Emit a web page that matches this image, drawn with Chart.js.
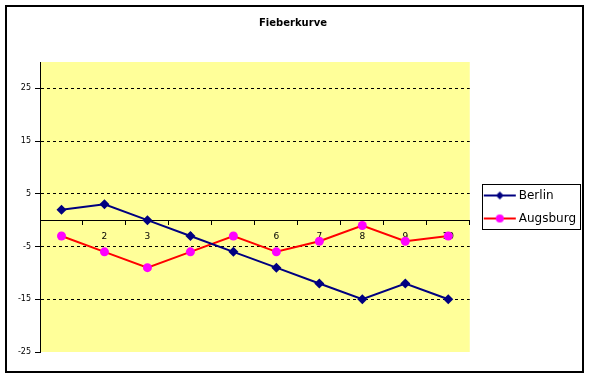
<!DOCTYPE html>
<html>
<head>
<meta charset="utf-8">
<script src="https://cdn.jsdelivr.net/npm/chart.js@4.4.1/dist/chart.umd.min.js"></script>
<style>
  html, body { margin: 0; padding: 0; background: #fff; }
  #chart { display: block; }
</style>
</head>
<body>
<canvas id="chart" width="589" height="378"></canvas>
<script>
// values
const categories = ['1', '2', '3', '4', '5', '6', '7', '8', '9', '10'];
const berlin   = [2, 3, 0, -3, -6, -9, -12, -15, -12, -15];
const augsburg = [-3, -6, -9, -6, -3, -6, -4, -1, -4, -3];
const yTicks   = [-25, -15, -5, 5, 15, 25];
const yMin = -25, yMax = 30;

const NAVY = '#000080', RED = '#FF0000', MAGENTA = '#FF00FF', PLOT_BG = '#FFFF99';
const FONT = 'DejaVu Sans';

// legend sample: short line with the series marker in the middle
function legendSample(lineColor, markColor, style) {
  const c = document.createElement('canvas');
  c.width = 40; c.height = 12;
  const g = c.getContext('2d');
  g.strokeStyle = lineColor; g.lineWidth = 2;
  g.beginPath(); g.moveTo(7, 6); g.lineTo(39, 6); g.stroke();
  g.fillStyle = markColor;
  g.beginPath();
  if (style === 'rectRot') {
    g.moveTo(23, 2); g.lineTo(27, 6); g.lineTo(23, 10); g.lineTo(19, 6); g.closePath();
  } else {
    g.arc(23, 6, 4, 0, Math.PI * 2);
  }
  g.fill();
  return c;
}

const framePlugin = {
  id: 'frame',
  beforeDraw(chart) {
    const { ctx, chartArea: a } = chart;
    ctx.save();
    ctx.fillStyle = '#fff';
    ctx.fillRect(0, 0, chart.width, chart.height);
    ctx.fillStyle = PLOT_BG;
    ctx.fillRect(a.left, a.top, a.right - a.left, a.bottom - a.top);
    ctx.restore();
  },
  afterDraw(chart) {
    const ctx = chart.ctx;
    ctx.save();
    ctx.strokeStyle = '#000';
    ctx.lineWidth = 2;
    ctx.strokeRect(6, 6, 577, 366);
    // box round the legend
    const hb = chart.legend && chart.legend.legendHitBoxes;
    if (hb && hb.length) {
      const l = hb[0].left + 1;
      const t = hb[0].top - 5.5;
      const r = Math.max(...hb.map(h => h.left + h.width)) + 4;
      const b = hb[hb.length - 1].top + hb[hb.length - 1].height + 4.5;
      ctx.lineWidth = 1;
      ctx.strokeRect(Math.round(l) + 0.5, Math.round(t) + 0.5, Math.round(r - l), Math.round(b - t));
    }
    ctx.restore();
  }
};

new Chart(document.getElementById('chart'), {
  type: 'line',
  data: {
    labels: categories,
    datasets: [
      { label: 'Berlin', data: berlin, borderColor: NAVY, backgroundColor: NAVY,
        borderWidth: 2, pointStyle: 'rectRot', pointRadius: 5, pointBorderWidth: 0,
        pointBackgroundColor: NAVY, tension: 0 },
      { label: 'Augsburg', data: augsburg, borderColor: RED, backgroundColor: MAGENTA,
        borderWidth: 2, pointStyle: 'circle', pointRadius: 4.5, pointBorderWidth: 0,
        pointBackgroundColor: MAGENTA, tension: 0 },
    ],
  },
  options: {
    responsive: false, animation: false,
    layout: { padding: { left: 0, right: 3, top: 0, bottom: 26 } },
    plugins: {
      tooltip: { enabled: false },
      title: {
        display: true, text: 'Fieberkurve', color: '#000',
        font: { family: FONT, size: 10, weight: 'bold' },
        padding: { top: 17, bottom: 33 },
      },
      legend: {
        position: 'right', align: 'center', fullSize: false,
        labels: {
          color: '#000', font: { family: FONT, size: 12 },
          usePointStyle: true, pointStyleWidth: 32, padding: 11,
          generateLabels(chart) {
            return chart.data.datasets.map((ds, i) => ({
              text: ds.label, datasetIndex: i, hidden: false, fontColor: '#000',
              pointStyle: i === 0 ? legendSample(NAVY, NAVY, 'rectRot') : legendSample(RED, MAGENTA, 'circle'),
              lineWidth: 0, strokeStyle: 'transparent', fillStyle: 'transparent',
            }));
          },
        },
      },
    },
    scales: {
      x: {
        type: 'category', offset: true,
        position: { y: 0 },
        border: { display: true, color: '#000', width: 1 },
        grid: { display: true, drawOnChartArea: false, drawTicks: true, tickLength: 4,
                tickColor: '#000', offset: true },
        ticks: { color: '#000', font: { family: FONT, size: 9 }, padding: 7, maxRotation: 0 },
      },
      y: {
        min: yMin, max: yMax,
        afterBuildTicks(scale) { scale.ticks = yTicks.map(v => ({ value: v })); },
        afterFit(scale) { scale.width = 40; },
        border: { display: true, color: '#000', width: 1, dash: [3, 3] },
        grid: {
          color: ctx => (ctx.tick && ctx.tick.value === yMin ? 'rgba(0,0,0,0)' : '#000'),
          tickBorderDash: [], tickColor: '#000', tickLength: 5, lineWidth: 1,
        },
        ticks: { color: '#000', font: { family: FONT, size: 8 }, padding: 4 },
      },
    },
  },
  plugins: [framePlugin],
});
</script>
</body>
</html>
